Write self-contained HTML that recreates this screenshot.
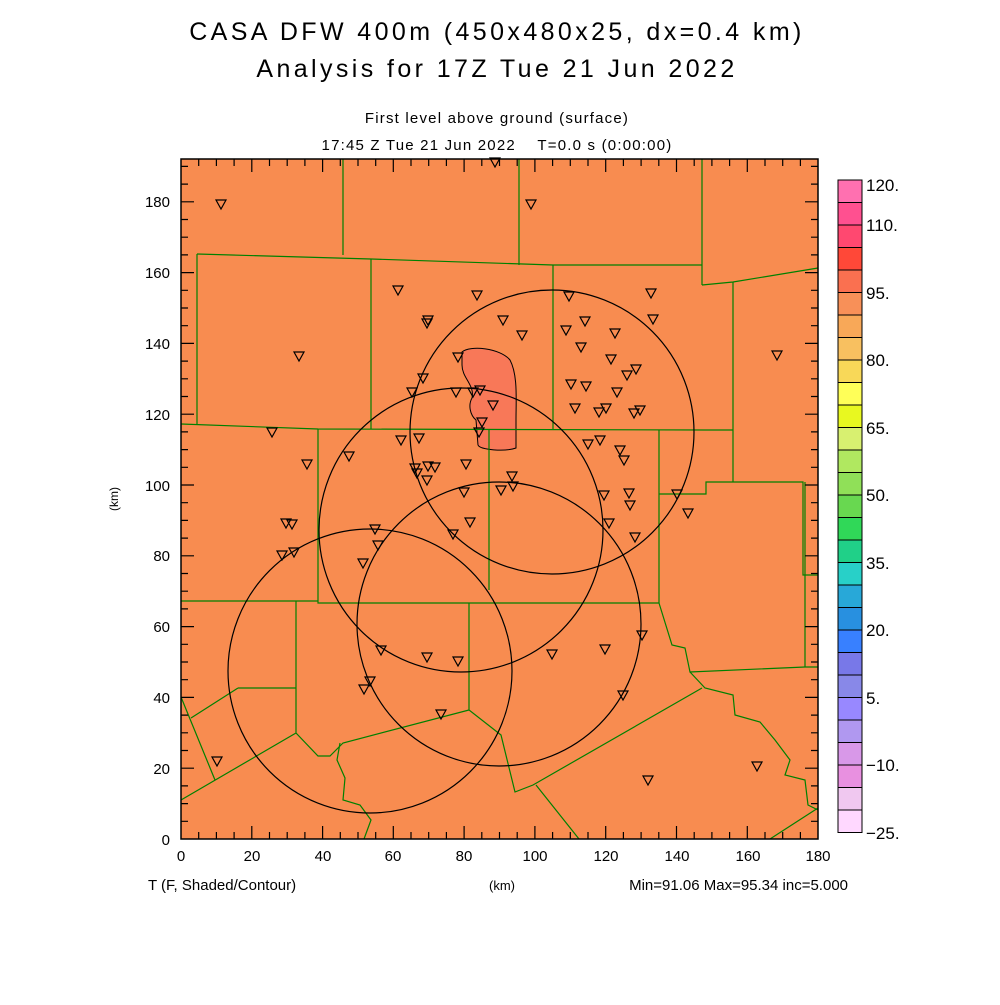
<!DOCTYPE html>
<html><head><meta charset="utf-8"><style>
body{margin:0;background:#fff;}
svg text{font-family:"Liberation Sans",sans-serif;fill:#000;}
</style></head><body>
<svg width="1000" height="1000" viewBox="0 0 1000 1000" xmlns="http://www.w3.org/2000/svg">
<rect width="1000" height="1000" fill="#fff"/>
<text x="497" y="40" font-size="25" text-anchor="middle" letter-spacing="3.4">CASA DFW 400m (450x480x25, dx=0.4 km)</text>
<text x="497" y="77" font-size="25" text-anchor="middle" letter-spacing="3.4">Analysis for 17Z Tue 21 Jun 2022</text>
<text x="497" y="123" font-size="15" text-anchor="middle" letter-spacing="1.2">First level above ground (surface)</text>
<text x="497" y="150" font-size="15" text-anchor="middle" letter-spacing="1.2">17:45 Z Tue 21 Jun 2022&#160;&#160;&#160;&#160;T=0.0 s (0:00:00)</text>

<rect x="181" y="159" width="637" height="680" fill="#f88c50"/>
<path d="M462,352 C470,345 500,348 510,360 C518,375 516,400 516,420 L516,448 C505,452 480,450 478,445 L476,420 C470,415 468,405 472,398 C475,385 462,378 462,365 Z" fill="#f87858" stroke="#000" stroke-width="1"/>

<g fill="none" stroke="#008000" stroke-width="1.2">
<path d="M343,159 V255 M519,159 V265 M702,159 V285"/>
<path d="M197,254 L371,259 L553,265 L702,265 M702,285 L733,282 L818,268"/>
<path d="M197,254 V424 M181,424 L318,429 L706,430 L733,430 M371,259 V429 M553,265 V429 M733,282 V482"/>
<path d="M318,429 V603 L659,603 M181,601 L318,601 M489,429 V590 M659,430 V603 M659,494 L706,494 L706,482 L803,482 L803,575 L818,575 M805,482 V667"/>
<path d="M296,601 V733 M238,688 L296,688 M238,688 L191,718 M181,697 L215,780 M181,800 L296,733 L318,756 L330,756 L343,743 L469,710 M469,603 V710 L501,735 L515,792 L533,785 L702,688"/>
<path d="M536,785 L579,839 M340,743 L337,760 L345,778 L343,800 L360,805 L371,820 L364,839"/>
<path d="M659,603 L672,645 L685,648 L690,672 L805,667 L818,667"/>
<path d="M690,672 L705,688 L733,695 L735,715 L760,722 L775,740 L790,760 L785,775 L805,780 L808,805 L818,810 M770,839 L818,808"/>
</g>

<g fill="none" stroke="#000" stroke-width="1.2">
<circle cx="552" cy="432" r="142"/>
<circle cx="461" cy="530" r="142"/>
<circle cx="499" cy="624" r="142"/>
<circle cx="370" cy="671" r="142"/>
</g>

<g fill="none" stroke="#000" stroke-width="1.2">
<path d="
M216,200 h10 l-5,9 z M490,158 h10 l-5,9 z M526,200 h10 l-5,9 z M393,286 h10 l-5,9 z M472,291 h10 l-5,9 z
M423,316 h10 l-5,9 z M422,319 h10 l-5,9 z M498,316 h10 l-5,9 z M517,331 h10 l-5,9 z M564,292 h10 l-5,9 z
M580,317 h10 l-5,9 z M561,326 h10 l-5,9 z M576,343 h10 l-5,9 z M610,329 h10 l-5,9 z M646,289 h10 l-5,9 z
M648,315 h10 l-5,9 z M294,352 h10 l-5,9 z M453,353 h10 l-5,9 z M772,351 h10 l-5,9 z M606,355 h10 l-5,9 z
M622,371 h10 l-5,9 z M631,365 h10 l-5,9 z M612,388 h10 l-5,9 z M566,380 h10 l-5,9 z M581,382 h10 l-5,9 z
M407,388 h10 l-5,9 z M418,374 h10 l-5,9 z M451,388 h10 l-5,9 z M468,388 h10 l-5,9 z M475,386 h10 l-5,9 z
M488,401 h10 l-5,9 z M570,404 h10 l-5,9 z M635,406 h10 l-5,9 z M629,409 h10 l-5,9 z M601,404 h10 l-5,9 z
M594,408 h10 l-5,9 z M477,418 h10 l-5,9 z M474,428 h10 l-5,9 z M267,428 h10 l-5,9 z M396,436 h10 l-5,9 z
M414,434 h10 l-5,9 z M583,440 h10 l-5,9 z M595,436 h10 l-5,9 z M615,446 h10 l-5,9 z M619,456 h10 l-5,9 z
M344,452 h10 l-5,9 z M302,460 h10 l-5,9 z M410,464 h10 l-5,9 z M412,469 h10 l-5,9 z M423,462 h10 l-5,9 z
M430,463 h10 l-5,9 z M461,460 h10 l-5,9 z M507,472 h10 l-5,9 z M422,476 h10 l-5,9 z M508,482 h10 l-5,9 z
M496,486 h10 l-5,9 z M459,488 h10 l-5,9 z M599,491 h10 l-5,9 z M624,489 h10 l-5,9 z M625,501 h10 l-5,9 z
M672,490 h10 l-5,9 z M683,509 h10 l-5,9 z M281,519 h10 l-5,9 z M287,520 h10 l-5,9 z M604,519 h10 l-5,9 z
M465,518 h10 l-5,9 z M370,525 h10 l-5,9 z M373,541 h10 l-5,9 z M448,530 h10 l-5,9 z M630,533 h10 l-5,9 z
M289,548 h10 l-5,9 z M277,551 h10 l-5,9 z M358,559 h10 l-5,9 z M637,631 h10 l-5,9 z M376,646 h10 l-5,9 z
M422,653 h10 l-5,9 z M453,657 h10 l-5,9 z M547,650 h10 l-5,9 z M600,645 h10 l-5,9 z M365,677 h10 l-5,9 z
M359,685 h10 l-5,9 z M436,710 h10 l-5,9 z M618,691 h10 l-5,9 z M212,757 h10 l-5,9 z M643,776 h10 l-5,9 z M752,762 h10 l-5,9 z"/>
</g>

<g stroke="#000" stroke-width="1.2">
<path d="
M198.7,839 v-7 M216.4,839 v-7 M234.1,839 v-7 M251.8,839 v-13 M269.5,839 v-7 M287.2,839 v-7 M304.9,839 v-7 M322.6,839 v-13 M340.3,839 v-7 M358,839 v-7 M375.7,839 v-7 M393.3,839 v-13 M411,839 v-7 M428.7,839 v-7 M446.4,839 v-7 M464.1,839 v-13 M481.8,839 v-7 M499.5,839 v-7 M517.2,839 v-7 M534.9,839 v-13 M552.6,839 v-7 M570.3,839 v-7 M588,839 v-7 M605.7,839 v-13 M623.4,839 v-7 M641.1,839 v-7 M658.8,839 v-7 M676.5,839 v-13 M694.2,839 v-7 M711.9,839 v-7 M729.6,839 v-7 M747.3,839 v-13 M765,839 v-7 M782.7,839 v-7 M800.4,839 v-7
M198.7,159 v7 M216.4,159 v7 M234.1,159 v7 M251.8,159 v13 M269.5,159 v7 M287.2,159 v7 M304.9,159 v7 M322.6,159 v13 M340.3,159 v7 M358,159 v7 M375.7,159 v7 M393.3,159 v13 M411,159 v7 M428.7,159 v7 M446.4,159 v7 M464.1,159 v13 M481.8,159 v7 M499.5,159 v7 M517.2,159 v7 M534.9,159 v13 M552.6,159 v7 M570.3,159 v7 M588,159 v7 M605.7,159 v13 M623.4,159 v7 M641.1,159 v7 M658.8,159 v7 M676.5,159 v13 M694.2,159 v7 M711.9,159 v7 M729.6,159 v7 M747.3,159 v13 M765,159 v7 M782.7,159 v7 M800.4,159 v7
M181,821.3 h7 M181,803.6 h7 M181,785.9 h7 M181,768.2 h13 M181,750.5 h7 M181,732.8 h7 M181,715.1 h7 M181,697.4 h13 M181,679.7 h7 M181,662 h7 M181,644.3 h7 M181,626.6 h13 M181,608.9 h7 M181,591.2 h7 M181,573.5 h7 M181,555.8 h13 M181,538.1 h7 M181,520.4 h7 M181,502.7 h7 M181,485 h13 M181,467.3 h7 M181,449.6 h7 M181,431.9 h7 M181,414.2 h13 M181,396.5 h7 M181,378.8 h7 M181,361.1 h7 M181,343.4 h13 M181,325.7 h7 M181,308 h7 M181,290.3 h7 M181,272.6 h13 M181,254.9 h7 M181,237.2 h7 M181,219.5 h7 M181,201.8 h13 M181,184.1 h7 M181,166.4 h7
M818,821.3 h-7 M818,803.6 h-7 M818,785.9 h-7 M818,768.2 h-13 M818,750.5 h-7 M818,732.8 h-7 M818,715.1 h-7 M818,697.4 h-13 M818,679.7 h-7 M818,662 h-7 M818,644.3 h-7 M818,626.6 h-13 M818,608.9 h-7 M818,591.2 h-7 M818,573.5 h-7 M818,555.8 h-13 M818,538.1 h-7 M818,520.4 h-7 M818,502.7 h-7 M818,485 h-13 M818,467.3 h-7 M818,449.6 h-7 M818,431.9 h-7 M818,414.2 h-13 M818,396.5 h-7 M818,378.8 h-7 M818,361.1 h-7 M818,343.4 h-13 M818,325.7 h-7 M818,308 h-7 M818,290.3 h-7 M818,272.6 h-13 M818,254.9 h-7 M818,237.2 h-7 M818,219.5 h-7 M818,201.8 h-13 M818,184.1 h-7 M818,166.4 h-7"/>
</g>
<rect x="181" y="159" width="637" height="680" fill="none" stroke="#000" stroke-width="1.5"/>

<g font-size="15" text-anchor="middle">
<text x="181" y="861">0</text><text x="252" y="861">20</text><text x="323" y="861">40</text><text x="393" y="861">60</text><text x="464" y="861">80</text><text x="535" y="861">100</text><text x="606" y="861">120</text><text x="677" y="861">140</text><text x="748" y="861">160</text><text x="818" y="861">180</text>
</g>
<g font-size="15" text-anchor="end">
<text x="170" y="845">0</text><text x="170" y="774">20</text><text x="170" y="703">40</text><text x="170" y="632">60</text><text x="170" y="561">80</text><text x="170" y="491">100</text><text x="170" y="420">120</text><text x="170" y="349">140</text><text x="170" y="278">160</text><text x="170" y="207">180</text>
</g>
<text x="118" y="499" font-size="12" text-anchor="middle" transform="rotate(-90 118 499)">(km)</text>
<text x="148" y="890" font-size="15">T (F, Shaded/Contour)</text>
<text x="502" y="890" font-size="13" text-anchor="middle">(km)</text>
<text x="848" y="890" font-size="15" text-anchor="end">Min=91.06 Max=95.34 inc=5.000</text>

<g stroke="#000" stroke-width="1">
<rect x="838" y="180" width="24" height="22.5" fill="#ff70b0"/>
<rect x="838" y="202.5" width="24" height="22.5" fill="#ff5090"/>
<rect x="838" y="225" width="24" height="22.5" fill="#ff4870"/>
<rect x="838" y="247.5" width="24" height="22.5" fill="#ff4838"/>
<rect x="838" y="270" width="24" height="22.5" fill="#fa7050"/>
<rect x="838" y="292.5" width="24" height="22.5" fill="#f89058"/>
<rect x="838" y="315" width="24" height="22.5" fill="#f8a858"/>
<rect x="838" y="337.5" width="24" height="22.5" fill="#f8c060"/>
<rect x="838" y="360" width="24" height="22.5" fill="#f8d858"/>
<rect x="838" y="382.5" width="24" height="22.5" fill="#ffff58"/>
<rect x="838" y="405" width="24" height="22.5" fill="#e8f820"/>
<rect x="838" y="427.5" width="24" height="22.5" fill="#d8f070"/>
<rect x="838" y="450" width="24" height="22.5" fill="#b0e860"/>
<rect x="838" y="472.5" width="24" height="22.5" fill="#90e058"/>
<rect x="838" y="495" width="24" height="22.5" fill="#68d850"/>
<rect x="838" y="517.5" width="24" height="22.5" fill="#30d858"/>
<rect x="838" y="540" width="24" height="22.5" fill="#20d088"/>
<rect x="838" y="562.5" width="24" height="22.5" fill="#28d0c8"/>
<rect x="838" y="585" width="24" height="22.5" fill="#28a8d8"/>
<rect x="838" y="607.5" width="24" height="22.5" fill="#2890e0"/>
<rect x="838" y="630" width="24" height="22.5" fill="#3880ff"/>
<rect x="838" y="652.5" width="24" height="22.5" fill="#7878e8"/>
<rect x="838" y="675" width="24" height="22.5" fill="#8888e8"/>
<rect x="838" y="697.5" width="24" height="22.5" fill="#9888ff"/>
<rect x="838" y="720" width="24" height="22.5" fill="#b098f0"/>
<rect x="838" y="742.5" width="24" height="22.5" fill="#d898e8"/>
<rect x="838" y="765" width="24" height="22.5" fill="#e890e0"/>
<rect x="838" y="787.5" width="24" height="22.5" fill="#f0c8f0"/>
<rect x="838" y="810" width="24" height="22.5" fill="#ffd8ff"/>
</g>
<g font-size="17">
<text x="866" y="191">120.</text><text x="866" y="231">110.</text><text x="866" y="299">95.</text><text x="866" y="366">80.</text><text x="866" y="434">65.</text><text x="866" y="501">50.</text><text x="866" y="569">35.</text><text x="866" y="636">20.</text><text x="866" y="704">5.</text><text x="866" y="771">−10.</text><text x="866" y="839">−25.</text>
</g>
</svg>
</body></html>
